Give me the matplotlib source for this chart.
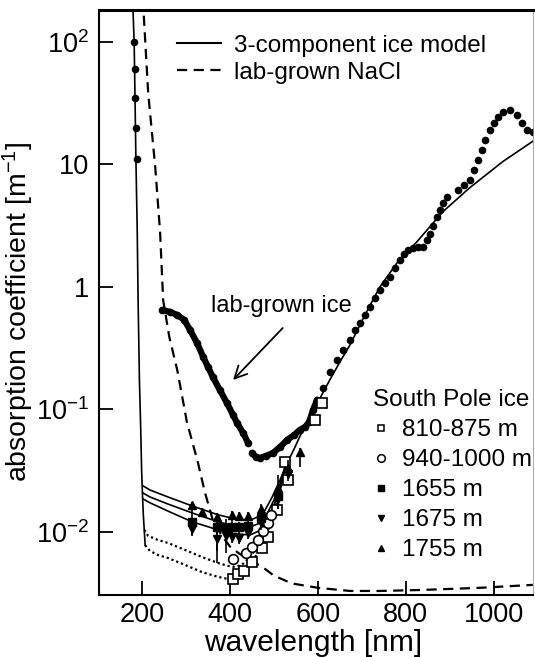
import matplotlib
matplotlib.use('Agg')
import matplotlib.pyplot as plt
from matplotlib.lines import Line2D
import numpy as np

plt.rcParams['font.family'] = ['Liberation Sans', 'DejaVu Sans']
plt.rcParams['mathtext.fontset'] = 'custom'
plt.rcParams['mathtext.rm'] = 'Liberation Sans'
plt.rcParams['mathtext.it'] = 'Liberation Sans:italic'
plt.rcParams['mathtext.default'] = 'regular'

# --- datos (longitud de onda en nm, absorcion en 1/m) ---

# hielo de laboratorio (puntos)
lab_uv_nm = [182, 184, 185, 186, 188]
lab_uv_abs = [100, 60.3, 34.9, 19.9, 11.1]

lab_a_nm = [246, 264, 280, 296, 309, 325, 339, 350, 361, 377, 393, 407, 416, 430, 441]
lab_a_abs = [0.649, 0.625, 0.590, 0.538, 0.446, 0.349, 0.269, 0.222, 0.184, 0.144,
             0.113, 0.0902, 0.0776, 0.0643, 0.0533]

lab_b_nm = [450, 459, 468, 482, 498, 514, 530, 546, 559, 571, 580, 589, 598, 611, 627,
            643, 657, 673, 684, 696, 707, 718, 730, 741, 752, 764, 775, 786, 795, 805,
            816, 827, 839, 848, 855, 861, 871, 877, 884, 893, 918, 932, 945, 955, 964,
            973, 980, 991, 1000, 1009, 1020, 1036, 1052, 1064, 1075, 1089]
lab_b_abs = [0.0442, 0.0409, 0.0402, 0.0417, 0.0442, 0.0494, 0.0564, 0.0619, 0.0681,
             0.0719, 0.0791, 0.0991, 0.120, 0.150, 0.202, 0.254, 0.306, 0.369, 0.446,
             0.508, 0.590, 0.687, 0.813, 0.946, 1.08, 1.21, 1.43, 1.66, 1.86, 2.00,
             2.08, 2.12, 2.12, 2.42, 2.71, 3.15, 3.72, 4.26, 4.85, 5.43, 6.19, 6.81,
             7.46, 9.02, 10.9, 13.1, 15.8, 19.1, 21.8, 24.4, 26.9, 27.9, 25.4, 21.8,
             19.1, 18.4]

# NaCl de laboratorio (discontinua)
nacl_nm = [201, 214, 230, 241, 248, 262, 280, 302, 327, 343, 361, 380, 400, 420, 445,
           473, 500, 541, 600, 673, 741, 832, 968, 1089]
nacl_abs = [250, 38, 9.5, 2.8, 0.78, 0.39, 0.21, 0.079, 0.037, 0.021, 0.0125, 0.0095,
            0.0076, 0.0067, 0.0059, 0.0052, 0.0044, 0.0038, 0.0035, 0.0033, 0.0033,
            0.00336, 0.0035, 0.0037]

# modelo de 3 componentes: cola UV comun
uv_nm = [179, 182, 184, 186, 189, 191, 194, 197, 199, 201, 203, 205, 207]
uv_abs = [200, 100, 34.9, 11.1, 2.92, 0.783, 0.174, 0.068, 0.032, 0.020, 0.0135,
          0.0104, 0.0078]

# modelo: tramo comun (hielo puro) desde 525 nm
ice_nm = [525, 548, 570, 589, 605, 627, 650, 673, 707, 741, 780, 825, 884, 945, 1020, 1093]
ice_abs = [0.0333, 0.0494, 0.0733, 0.099, 0.124, 0.174, 0.244, 0.336, 0.590, 1.0,
           1.57, 2.33, 4.10, 6.43, 10.5, 15.8]

# modelo: tramos con polvo (lineas continuas)
m1755_nm = [202, 218, 259, 314, 373, 411, 446, 464, 480, 496, 514, 525]
m1755_abs = [0.0238, 0.0220, 0.0193, 0.0163, 0.0138, 0.0128, 0.0125, 0.0133, 0.0151,
             0.0193, 0.0266, 0.0333]
m1655_nm = [202, 218, 259, 314, 373, 411, 446, 468, 484, 500, 514, 525]
m1655_abs = [0.0208, 0.0193, 0.0169, 0.0143, 0.0121, 0.0112, 0.0110, 0.0118, 0.0140,
             0.0182, 0.0247, 0.0333]
m1675_nm = [202, 218, 259, 314, 373, 411, 446, 471, 486, 502, 516, 525]
m1675_abs = [0.0186, 0.0173, 0.0148, 0.0121, 0.0104, 0.00964, 0.00946, 0.0104, 0.0125,
             0.0173, 0.0242, 0.0333]

# modelo: tramos con poco polvo (punteadas)
m940_nm = [205, 214, 236, 259, 298, 336, 373, 396, 411, 427, 446, 464, 482, 500, 514, 525]
m940_abs = [0.0104, 0.00928, 0.00861, 0.00813, 0.00713, 0.00625, 0.00558, 0.00528,
            0.00518, 0.00538, 0.00625, 0.00783, 0.0108, 0.0157, 0.0220, 0.0333]
m810_nm = [207, 218, 236, 259, 298, 336, 373, 396, 409, 423, 441, 459, 477, 496, 511, 525]
m810_abs = [0.0078, 0.00700, 0.00649, 0.00613, 0.00538, 0.00471, 0.00430, 0.00413,
            0.00413, 0.00437, 0.00518, 0.00637, 0.00845, 0.0125, 0.0200, 0.0333]

# hielo del Polo Sur (medidas)
d810_nm = [407, 418, 432, 450, 473, 486, 507, 525, 532, 593, 609]
d810_abs = [0.00413, 0.00454, 0.00481, 0.00569, 0.00740, 0.00910, 0.0151, 0.0372,
            0.0266, 0.0820, 0.113]
d940_nm = [407, 436, 450, 464, 475, 486, 493]
d940_abs = [0.00603, 0.00675, 0.00755, 0.00861, 0.0102, 0.0118, 0.0138]
d1655_nm = [313, 370, 390, 405, 420, 440, 470, 510]
d1655_abs = [0.0121, 0.0110, 0.0108, 0.0110, 0.0110, 0.0112, 0.0130, 0.0195]
d1655_lo = [0.0029, 0.0040, 0.0025, 0.0015, 0.0010, 0.0010, 0.0020, 0.0040]
d1655_hi = [0.0045, 0.0020, 0.0020, 0.0015, 0.0010, 0.0010, 0.0020, 0.0040]
d1675_nm = [313, 370, 390, 405, 420, 440, 470, 510, 532]
d1675_abs = [0.0105, 0.0088, 0.0092, 0.0091, 0.0090, 0.0098, 0.0118, 0.0185, 0.0300]
d1675_lo = [0.0010, 0.0032, 0.0025, 0.0010, 0.0010, 0.0010, 0.0015, 0.0030, 0.0040]
d1675_hi = [0.0010, 0.0020, 0.0020, 0.0010, 0.0010, 0.0010, 0.0015, 0.0030, 0.0040]
d1755_nm = [313, 337, 370, 405, 420, 440, 470, 510, 532, 559]
d1755_abs = [0.0166, 0.0146, 0.0132, 0.0138, 0.0136, 0.0136, 0.0155, 0.0230, 0.0330, 0.045]
d1755_lo = [0.0010, 0.0010, 0.0010, 0.0010, 0.0010, 0.0010, 0.0015, 0.0040, 0.0040, 0.011]
d1755_hi = [0.0010, 0.0010, 0.0010, 0.0010, 0.0010, 0.0010, 0.0015, 0.0060, 0.0060, 0.003]

leyenda_modelo = ['3-component ice model', 'lab-grown NaCl']
leyenda_polo = ['810-875 m', '940-1000 m', '1655 m', '1675 m', '1755 m']

y_ticks = [1e-2, 1e-1, 1, 10, 100]
y_ticklabels = ['10$^{-2}$', '10$^{-1}$', '1', '10', '10$^{2}$']
x_ticks = [200, 400, 600, 800, 1000]

# --- figura ---
fig = plt.figure(figsize=(5.35, 6.57), dpi=100)
ax = fig.add_axes([0.185, 0.0944, 0.811, 0.8904])
ax.set_yscale('log')

guion = (0, (4.6, 2.9))
punteado = (0, (1, 1.3))

ax.plot(nacl_nm, nacl_abs, color='k', lw=1.6, ls=guion)
ax.plot(uv_nm, uv_abs, color='k', lw=1.2)
for xs, ys in [(m1755_nm, m1755_abs), (m1655_nm, m1655_abs), (m1675_nm, m1675_abs)]:
    ax.plot(xs, ys, color='k', lw=1.2)
for xs, ys in [(m940_nm, m940_abs), (m810_nm, m810_abs)]:
    ax.plot(xs, ys, color='k', lw=1.6, ls=punteado)
ax.plot(ice_nm, ice_abs, color='k', lw=1.2)

# hielo de laboratorio: tramos densos como banda gruesa
lab_b_nm_arr = np.array(lab_b_nm)
lab_b_abs_arr = np.array(lab_b_abs)
denso = lab_b_nm_arr <= 600
ax.plot(lab_a_nm, lab_a_abs, color='k', lw=4.5, solid_capstyle='round')
ax.plot(lab_b_nm_arr[denso], lab_b_abs_arr[denso], color='k', lw=4.5, solid_capstyle='round')
for xs, ys in [(lab_uv_nm, lab_uv_abs), (lab_a_nm, lab_a_abs), (lab_b_nm, lab_b_abs)]:
    ax.plot(xs, ys, 'o', color='k', ms=5.5, mew=0)

# medidas del Polo Sur
ax.plot(d810_nm, d810_abs, 's', mfc='white', mec='k', ms=6.5, mew=1.2)
ax.plot(d940_nm, d940_abs, 'o', mfc='white', mec='k', ms=7, mew=1.2)
ax.errorbar(d1655_nm, d1655_abs, yerr=[d1655_lo, d1655_hi], fmt='s', color='k', ms=5.5,
            elinewidth=1.2, capsize=0)
ax.errorbar(d1675_nm, d1675_abs, yerr=[d1675_lo, d1675_hi], fmt='v', color='k', ms=6,
            elinewidth=1.2, capsize=0)
ax.errorbar(d1755_nm, d1755_abs, yerr=[d1755_lo, d1755_hi], fmt='^', color='k', ms=6,
            elinewidth=1.2, capsize=0)

# rotulo y flecha del hielo de laboratorio
ax.text(516, 0.70, 'lab-grown ice', fontsize=17, ha='center', va='center')
ax.annotate('', xy=(407, 0.174), xytext=(520, 0.462),
            arrowprops=dict(arrowstyle='->', color='k', lw=1.3, mutation_scale=22,
                            shrinkA=0, shrinkB=0))

# ejes
ax.set_xlim(102, 1089)
ax.set_ylim(0.00306, 182)
ax.set_yticks(y_ticks)
ax.set_yticklabels(y_ticklabels)
ax.yaxis.set_minor_locator(matplotlib.ticker.NullLocator())
ax.set_xticks(x_ticks)
ax.tick_params(direction='in', length=10, width=1.3, labelsize=19.5)
ax.tick_params(axis='y', pad=7)
ax.tick_params(axis='x', pad=5)
ax.spines['top'].set_linewidth(2.2)
ax.spines['left'].set_linewidth(1.5)
ax.spines['bottom'].set_linewidth(1.5)
ax.spines['right'].set_linewidth(0.6)
ax.spines['right'].set_color('#999999')

ax.set_xlabel('wavelength [nm]', fontsize=21.5)
ax.set_ylabel('absorption coefficient [m$^{-1}$]', fontsize=20.5)
ax.xaxis.set_label_coords(0.493, -0.058)
ax.yaxis.set_label_coords(-0.145, 0.485)

# leyendas
h1 = [Line2D([], [], color='k', lw=1.5), Line2D([], [], color='k', lw=1.6, ls=guion)]
leg1 = ax.legend(h1, leyenda_modelo, loc='upper left', bbox_to_anchor=(0.18, 0.958),
                 frameon=False, fontsize=17.5, handlelength=1.8, handletextpad=0.55,
                 labelspacing=0.22, borderpad=0, borderaxespad=0)
ax.add_artist(leg1)

h2 = [Line2D([], [], ls='none', marker='s', mfc='white', mec='k', ms=5, mew=1.1),
      Line2D([], [], ls='none', marker='o', mfc='white', mec='k', ms=5.5, mew=1.1),
      Line2D([], [], ls='none', marker='s', color='k', ms=5),
      Line2D([], [], ls='none', marker='v', color='k', ms=5),
      Line2D([], [], ls='none', marker='^', color='k', ms=5)]
ax.legend(h2, leyenda_polo, title='South Pole ice', title_fontsize=17.5, fontsize=17.5,
          loc='upper left', bbox_to_anchor=(0.631, 0.352), alignment='left',
          frameon=False, handlelength=0.7, handletextpad=0.5, labelspacing=0.33,
          borderpad=0, borderaxespad=0)

fig.savefig('out.png', dpi=100)
